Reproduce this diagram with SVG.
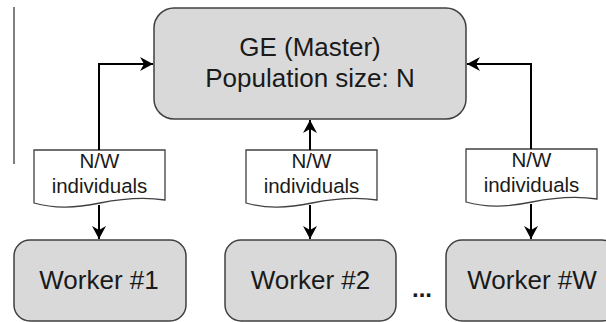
<svg xmlns="http://www.w3.org/2000/svg" width="606" height="322" viewBox="0 0 606 322">
<style>
.box{fill:#d9d9d9;stroke:#404040;stroke-width:1.5}
.doc{fill:#ffffff;stroke:#404040;stroke-width:1.3}
.conn{fill:none;stroke:#000;stroke-width:2}
.t{font-family:"Liberation Sans",Arial,sans-serif;fill:#1a1a1a;text-anchor:middle}
.big{font-size:26px}
.small{font-size:20.5px}
</style>
<defs>
<marker id="ah" markerUnits="userSpaceOnUse" markerWidth="16" markerHeight="16" refX="13" refY="7" orient="auto" viewBox="0 0 16 14">
<path d="M0,0 L13,7 L0,14 L4,7 z" fill="#000"/>
</marker>
</defs>
<line x1="14" y1="7" x2="14" y2="164" stroke="#808080" stroke-width="2"/>
<g id="master">
<rect class="box" x="154" y="8" width="312" height="111" rx="20"/>
<text class="t big" x="310" y="56">GE (Master)</text>
<text class="t big" x="310" y="87">Population size: N</text>
</g>
<g id="doc1">
<path class="doc" d="M34,150 H165 V200 C145,197 125,198 100,203 C75,208 55,209 34,203 Z"/>
<text class="t small" x="99.5" y="168">N/W</text>
<text class="t small" x="99.5" y="193">individuals</text>
</g>
<g id="doc2">
<path class="doc" d="M246,150 H377 V200 C357,197 337,198 312,203 C287,208 267,209 246,203 Z"/>
<text class="t small" x="311.5" y="168">N/W</text>
<text class="t small" x="311.5" y="193">individuals</text>
</g>
<g id="doc3">
<path class="doc" d="M466,149 H597 V199 C577,196 557,197 532,202 C507,207 487,208 466,202 Z"/>
<text class="t small" x="531.5" y="167">N/W</text>
<text class="t small" x="531.5" y="192">individuals</text>
</g>
<g id="worker1">
<rect class="box" x="14" y="240" width="172" height="81" rx="16"/>
<text class="t big" x="99" y="289">Worker #1</text>
</g>
<g id="worker2">
<rect class="box" x="225" y="240" width="171" height="81" rx="16"/>
<text class="t big" x="310.5" y="289">Worker #2</text>
</g>
<g id="workerW">
<rect class="box" x="446" y="240" width="172" height="81" rx="16"/>
<text class="t big" x="532" y="289">Worker #W</text>
</g>
<text class="t" x="422" y="297" font-size="24" font-weight="bold">...</text>
<g id="connectors">
<path class="conn" d="M99,150 V64 H153" marker-end="url(#ah)"/>
<path class="conn" d="M310,150 V120" marker-end="url(#ah)"/>
<path class="conn" d="M531,149 V64 H467" marker-end="url(#ah)"/>
<path class="conn" d="M99,205 V239" marker-end="url(#ah)"/>
<path class="conn" d="M310,205 V239" marker-end="url(#ah)"/>
<path class="conn" d="M531,204 V239" marker-end="url(#ah)"/>
</g>
</svg>
